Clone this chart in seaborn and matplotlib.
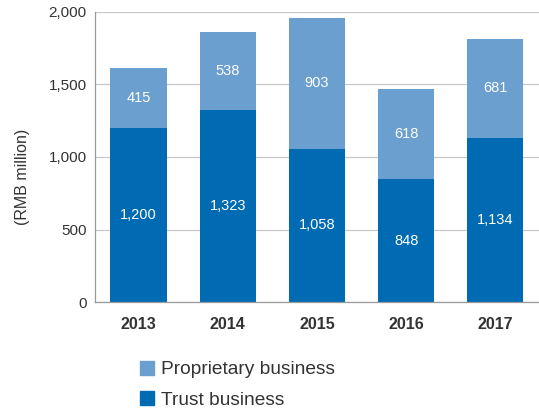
import matplotlib
matplotlib.use("Agg")
import matplotlib.pyplot as plt
import seaborn as sns
import pandas as pd
from matplotlib.patches import Patch

years = ["2013", "2014", "2015", "2016", "2017"]
trust = [1200, 1323, 1058, 848, 1134]
proprietary = [415, 538, 903, 618, 681]
yticks = [0, 500, 1000, 1500, 2000]
ytick_labels = ["0", "500", "1,000", "1,500", "2,000"]

sns.set_style("white")
plt.rcParams['font.family'] = ['Liberation Sans', 'DejaVu Sans']

dark = "#006BB3"
light = "#6A9FD0"
txt = "#333333"

df = pd.DataFrame({"year": years, "trust": trust, "prop": proprietary})
df["total"] = df["trust"] + df["prop"]

fig = plt.figure(figsize=(5.39, 4.09), dpi=100)
ax = fig.add_axes([0.176, 0.2616, 0.824, 0.7091])

sns.barplot(data=df, x="year", y="total", color=light, width=0.63, ax=ax,
            saturation=1, linewidth=0)
sns.barplot(data=df, x="year", y="trust", color=dark, width=0.63, ax=ax,
            saturation=1, linewidth=0)

for i, (t, p) in enumerate(zip(trust, proprietary)):
    ax.text(i, t / 2, f"{t:,}", ha="center", va="center", color="white", fontsize=10.5)
    ax.text(i, t + p / 2, f"{p:,}", ha="center", va="center", color="white", fontsize=10.5)

ax.set_ylim(0, 2000)
ax.set_xlim(-0.49, 4.49)
ax.set_yticks(yticks)
ax.set_yticklabels(ytick_labels, fontsize=11, color=txt)
ax.set_xticks(range(len(years)))
ax.set_xticklabels(years, fontsize=11.5, color=txt, fontweight="bold")
ax.tick_params(axis="x", length=0, pad=11)
ax.tick_params(axis="y", length=0, pad=6)
ax.set_xlabel("")
ax.set_ylabel("(RMB million)", fontsize=11.5, color=txt)
ax.yaxis.set_label_coords(-0.145, 0.43)
ax.yaxis.grid(True, color="#c8c8c8", linewidth=0.9)
ax.set_axisbelow(True)
for s in ["top", "right"]:
    ax.spines[s].set_visible(False)
for s in ["left", "bottom"]:
    ax.spines[s].set_color("#9a9a9a")
    ax.spines[s].set_linewidth(0.9)

handles = [Patch(color=light, label="Proprietary business"),
           Patch(color=dark, label="Trust business")]
fig.legend(handles=handles, loc="upper left", bbox_to_anchor=(0.259, 0.118),
           frameon=False, fontsize=13.8, handlelength=0.75, handleheight=0.75,
           handletextpad=0.35, labelspacing=0.65, labelcolor=txt,
           borderaxespad=0, borderpad=0)

fig.savefig("out.png", dpi=100)
